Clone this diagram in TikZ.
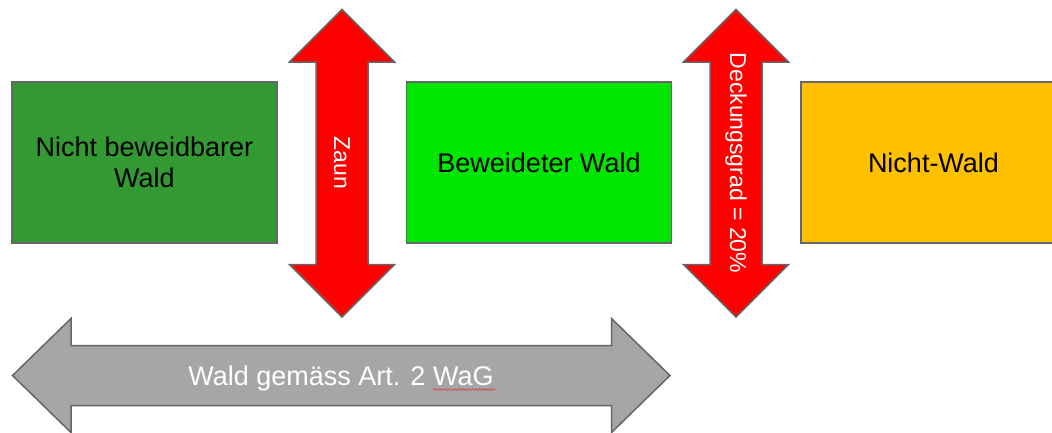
\documentclass[tikz,border=0pt]{standalone}
\usepackage{fontspec}
\setmainfont{Liberation Sans}
\usetikzlibrary{decorations.pathmorphing}
\definecolor{darkwood}{HTML}{339933}
\definecolor{brightwood}{HTML}{00E600}
\definecolor{openland}{HTML}{FFC000}
\definecolor{edgegray}{HTML}{666666}
\definecolor{bandgray}{HTML}{A6A6A6}
\definecolor{spellred}{HTML}{E03838}
\begin{document}
\begin{tikzpicture}[x=1pt,y=-1pt,
  area/.style={draw=edgegray, line width=1.5pt, minimum width=265pt,
    minimum height=161pt, inner sep=0pt, align=center,
    font=\fontsize{27}{31.5}\selectfont, text=black},
  redband/.style={draw=edgegray, line width=1.5pt, fill=red, line join=miter},
  grayband/.style={draw=edgegray, line width=1.5pt, fill=bandgray, line join=miter},
  uptext/.style={rotate=-90, text=white, inner sep=0pt, font=\fontsize{23}{27}\selectfont},
  bandtext/.style={text=white, inner sep=0pt, font=\fontsize{27}{32}\selectfont}
]
\useasboundingbox (0,0) rectangle (1052,432);
\clip (0,0) rectangle (1052,432);

% the three land categories
\node[area, fill=darkwood]   (fixed)  at (144.5,162.5) {Nicht beweidbarer\\Wald};
\node[area, fill=brightwood] (grazed) at (539,162.5)   {Beweideter Wald};
\node[area, fill=openland]   (open)   at (933.5,162.5) {Nicht-Wald};

% vertical double arrows between the categories
\foreach \cx in {342,736}{
  \path[redband, shift={(\cx,0)}]
    (0,9.5) -- (52.5,62) -- (26,62) -- (26,264.5) -- (52.5,264.5)
    -- (0,317) -- (-52.5,264.5) -- (-26,264.5) -- (-26,62) -- (-52.5,62) -- cycle;
}
\node[uptext] (fence) at (342,163) {Zaun};
\node[uptext] (cover) at (736,163) {Deckungsgrad = 20\%};

% horizontal double arrow spanning the legal forest
\path[grayband]
  (12.5,375.5) -- (71,318.5) -- (71,345.5) -- (611.5,345.5) -- (611.5,318.5)
  -- (670,375.5) -- (611.5,432.5) -- (611.5,405.5) -- (71,405.5) -- (71,432.5) -- cycle;
\node[bandtext, anchor=base] (legal) at (341,385) {Wald gemäss Art. 2 WaG};
\coordinate (wavestart) at (433,389.5);
\coordinate (waveend) at (495,389.5);
\draw[spellred, line width=0.6pt, decorate,
  decoration={snake, amplitude=0.8pt, segment length=3pt}] (wavestart) -- (waveend);
\end{tikzpicture}
\end{document}
